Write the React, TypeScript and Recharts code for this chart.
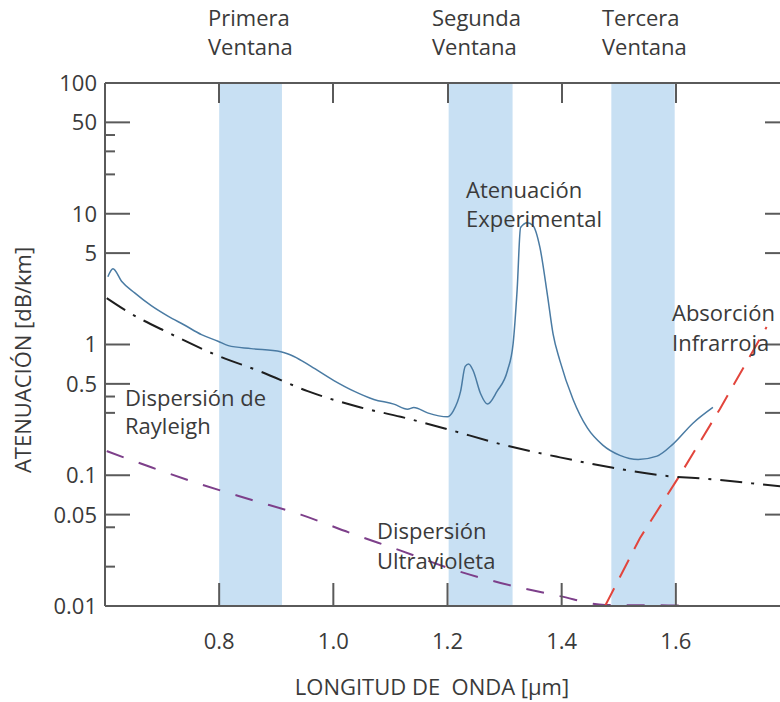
import { LineChart, Line, XAxis, YAxis, ReferenceArea } from 'recharts';

// Atenuación experimental (µm, dB/km)
const expWavelength = [0.605, 0.614, 0.629, 0.652, 0.681, 0.711, 0.739, 0.769, 0.798, 0.816, 0.856, 0.908, 0.931, 0.961, 1.001, 1.036, 1.071, 1.106, 1.13, 1.141, 1.165, 1.2, 1.21, 1.223, 1.231, 1.237, 1.245, 1.258, 1.27, 1.287, 1.305, 1.315, 1.322, 1.328, 1.34, 1.35, 1.362, 1.375, 1.385, 1.397, 1.42, 1.445, 1.472, 1.502, 1.534, 1.567, 1.595, 1.63, 1.665];
const expLoss = [3.3, 3.8, 3.05, 2.48, 1.98, 1.64, 1.41, 1.19, 1.06, 0.98, 0.93, 0.88, 0.81, 0.68, 0.53, 0.44, 0.38, 0.35, 0.32, 0.33, 0.3, 0.28, 0.31, 0.44, 0.68, 0.71, 0.63, 0.42, 0.35, 0.44, 0.63, 1.02, 2.63, 7.85, 8.55, 8.1, 5.5, 2.4, 1.2, 0.75, 0.38, 0.23, 0.17, 0.142, 0.132, 0.14, 0.173, 0.25, 0.33];

// Dispersión de Rayleigh
const rayWavelength = [0.603, 0.638, 0.711, 0.798, 0.873, 0.955, 1.048, 1.118, 1.2, 1.293, 1.397, 1.485, 1.572, 1.665, 1.752, 1.8];
const rayLoss = [2.26, 1.8, 1.23, 0.82, 0.62, 0.44, 0.33, 0.28, 0.225, 0.173, 0.137, 0.115, 0.1, 0.093, 0.085, 0.081];

// Dispersión ultravioleta
const uvWavelength = [0.603, 0.681, 0.769, 0.856, 0.943, 1.031, 1.118, 1.205, 1.293, 1.397, 1.476, 1.607];
const uvLoss = [0.153, 0.115, 0.085, 0.065, 0.05, 0.036, 0.0265, 0.0193, 0.015, 0.0119, 0.0102, 0.0101];

// Absorción infrarroja
const irWavelength = [1.476, 1.537, 1.607, 1.677, 1.759];
const irLoss = [0.01, 0.033, 0.1, 0.32, 1.36];

// Ventanas (µm)
const windows = [
  { name: 'Primera', from: 0.8, to: 0.91 },
  { name: 'Segunda', from: 1.202, to: 1.314 },
  { name: 'Tercera', from: 1.487, to: 1.598 },
];

const xTicks = [0.8, 1.0, 1.2, 1.4, 1.6];
const yMajorTicks = [0.01, 0.05, 0.1, 0.5, 1, 5, 10, 50, 100];
const yMinorTicks = [40, 30, 20, 0.4, 0.3, 0.04, 0.02];
const yRightTicks = [50, 10, 5, 1, 0.5, 0.3, 0.1, 0.05];

const toPoints = (xs: number[], ys: number[]) => xs.map((x, i) => ({ x, y: ys[i] }));

const FONT = '"Open Sans", sans-serif';
const TEXT = '#3a3a3a';
const AXIS = '#5a5a5a';

// layout
const CHART_W = 780;
const CHART_H = 702;
const TOP = 83;
const X_AXIS_H = 96;
const Y_AXIS_W = 105;
const R_AXIS_W = 30;
const OVERHANG = 10; // the frame runs a bit past the right edge of the picture
const PLOT_W = CHART_W - Y_AXIS_W + OVERHANG;
const X_MIN = 0.6;
const X_MAX = 1.8;

// left axis: ticks point into the plot, minor ones shorter and unlabeled
const LeftTick = (props: any) => {
  const { x, y, payload } = props;
  const v = payload.value as number;
  const major = yMajorTicks.includes(v);
  const ax = x + 8;
  return (
    <g>
      <line x1={ax} x2={ax + (major ? 25 : 10)} y1={y} y2={y} stroke={AXIS} strokeWidth={2} />
      {major && (
        <text x={x} y={y} dy="0.36em" textAnchor="end" fill={TEXT} fontSize={22} fontFamily={FONT}>
          {String(v)}
        </text>
      )}
    </g>
  );
};

// bottom axis: inward ticks and labels below
const BottomTick = (props: any) => {
  const { x, y, payload } = props;
  const v = payload.value as number;
  return (
    <g>
      <line x1={x} x2={x} y1={y} y2={y - 23} stroke={AXIS} strokeWidth={2} />
      <text x={x} y={y + 27} dy="0.72em" textAnchor="middle" fill={TEXT} fontSize={22} fontFamily={FONT}>
        {v.toFixed(1)}
      </text>
    </g>
  );
};

const note = (left: number, top: number, lines: string[], lh = 29) => (
  <div
    style={{
      position: 'absolute', left, top, fontFamily: FONT, fontSize: 22,
      lineHeight: `${lh}px`, color: TEXT, whiteSpace: 'nowrap',
    }}
  >
    {lines.map((l) => <div key={l}>{l}</div>)}
  </div>
);

// top frame and its ticks, laid over the chart
const TopFrame = () => (
  <div style={{ position: 'absolute', left: Y_AXIS_W, top: TOP - 1, width: PLOT_W, height: 22, zIndex: 5, pointerEvents: 'none' }}>
    <div style={{ position: 'absolute', left: 0, top: 0, width: PLOT_W, height: 2, background: AXIS }} />
    {xTicks.map((t) => (
      <div key={t} style={{
        position: 'absolute', left: ((t - X_MIN) / (X_MAX - X_MIN)) * PLOT_W - 1, top: 0,
        width: 2, height: 21, background: AXIS,
      }} />
    ))}
  </div>
);

export default function App() {
  const domainX: [number, number] = [X_MIN, X_MAX];
  const domainY: [number, number] = [0.01, 100];
  const leftTicks = [...yMajorTicks, ...yMinorTicks].sort((a, b) => a - b);

  return (
    <div style={{ position: 'absolute', left: 0, top: 0, width: CHART_W, height: CHART_H, background: '#fff', overflow: 'hidden' }}>
      <LineChart width={CHART_W} height={CHART_H}
        margin={{ top: TOP, right: -(OVERHANG + R_AXIS_W), bottom: 0, left: 0 }}>
        {windows.map((w) => (
          <ReferenceArea key={w.name} xAxisId="x" yAxisId="y" x1={w.from} x2={w.to}
            fill="#c8e0f3" fillOpacity={1} />
        ))}
        <XAxis xAxisId="x" dataKey="x" type="number" domain={domainX} ticks={xTicks} allowDataOverflow interval={0}
          tickFormatter={(v: number) => v.toFixed(1)} tickSize={0} tickMargin={0} tickLine={false}
          height={X_AXIS_H} stroke={AXIS} strokeWidth={2} tick={<BottomTick />} />
        <YAxis yAxisId="y" scale="log" type="number" domain={domainY} ticks={leftTicks} allowDataOverflow interval={0}
          width={Y_AXIS_W} tickSize={0} tickMargin={8} tickLine={false} stroke={AXIS} strokeWidth={2}
          tickFormatter={(v: number) => String(v)} tick={<LeftTick />} />
        <YAxis yAxisId="yr" orientation="right" scale="log" type="number" domain={domainY} ticks={yRightTicks}
          allowDataOverflow interval={0} width={R_AXIS_W} tickSize={-25} tickFormatter={() => ''} axisLine={false}
          stroke={AXIS} strokeWidth={2} />

        <Line xAxisId="x" yAxisId="y" data={toPoints(uvWavelength, uvLoss)} dataKey="y" type="monotone"
          stroke="#7d3f8a" strokeWidth={2} strokeDasharray="18 16" dot={false} isAnimationActive={false} />
        <Line xAxisId="x" yAxisId="yr" data={toPoints(irWavelength, irLoss)} dataKey="y" type="linear"
          stroke="#e2453c" strokeWidth={2} strokeDasharray="20 12" dot={false} isAnimationActive={false} />
        <Line xAxisId="x" yAxisId="y" data={toPoints(rayWavelength, rayLoss)} dataKey="y" type="monotone"
          stroke="#1e1e1e" strokeWidth={2} strokeDasharray="22 9 3 9" dot={false} isAnimationActive={false} />
        <Line xAxisId="x" yAxisId="y" data={toPoints(expWavelength, expLoss)} dataKey="y" type="monotone"
          stroke="#4a7ba3" strokeWidth={1.5} dot={false} isAnimationActive={false} />
      </LineChart>

      <TopFrame />

      {note(208, 3, ['Primera', 'Ventana'])}
      {note(432, 3, ['Segunda', 'Ventana'])}
      {note(602, 3, ['Tercera', 'Ventana'])}
      {note(466, 175, ['Atenuación', 'Experimental'])}
      {note(672, 297, ['Absorción', 'Infrarroja'], 30)}
      {note(125, 383, ['Dispersión de', 'Rayleigh'], 28)}
      {note(377, 515, ['Dispersión', 'Ultravioleta'], 30)}

      <div style={{
        position: 'absolute', left: 22, top: 360, transform: 'translate(-50%, -50%) rotate(-90deg)',
        fontFamily: FONT, fontSize: 22, color: TEXT, whiteSpace: 'nowrap',
      }}>
        ATENUACIÓN [dB/km]
      </div>
      <div style={{
        position: 'absolute', left: 432, top: 686, transform: 'translate(-50%, -50%)',
        fontFamily: FONT, fontSize: 22, lineHeight: '26px', color: TEXT, whiteSpace: 'nowrap',
      }}>
        LONGITUD DE&nbsp; ONDA [μm]
      </div>
    </div>
  );
}
